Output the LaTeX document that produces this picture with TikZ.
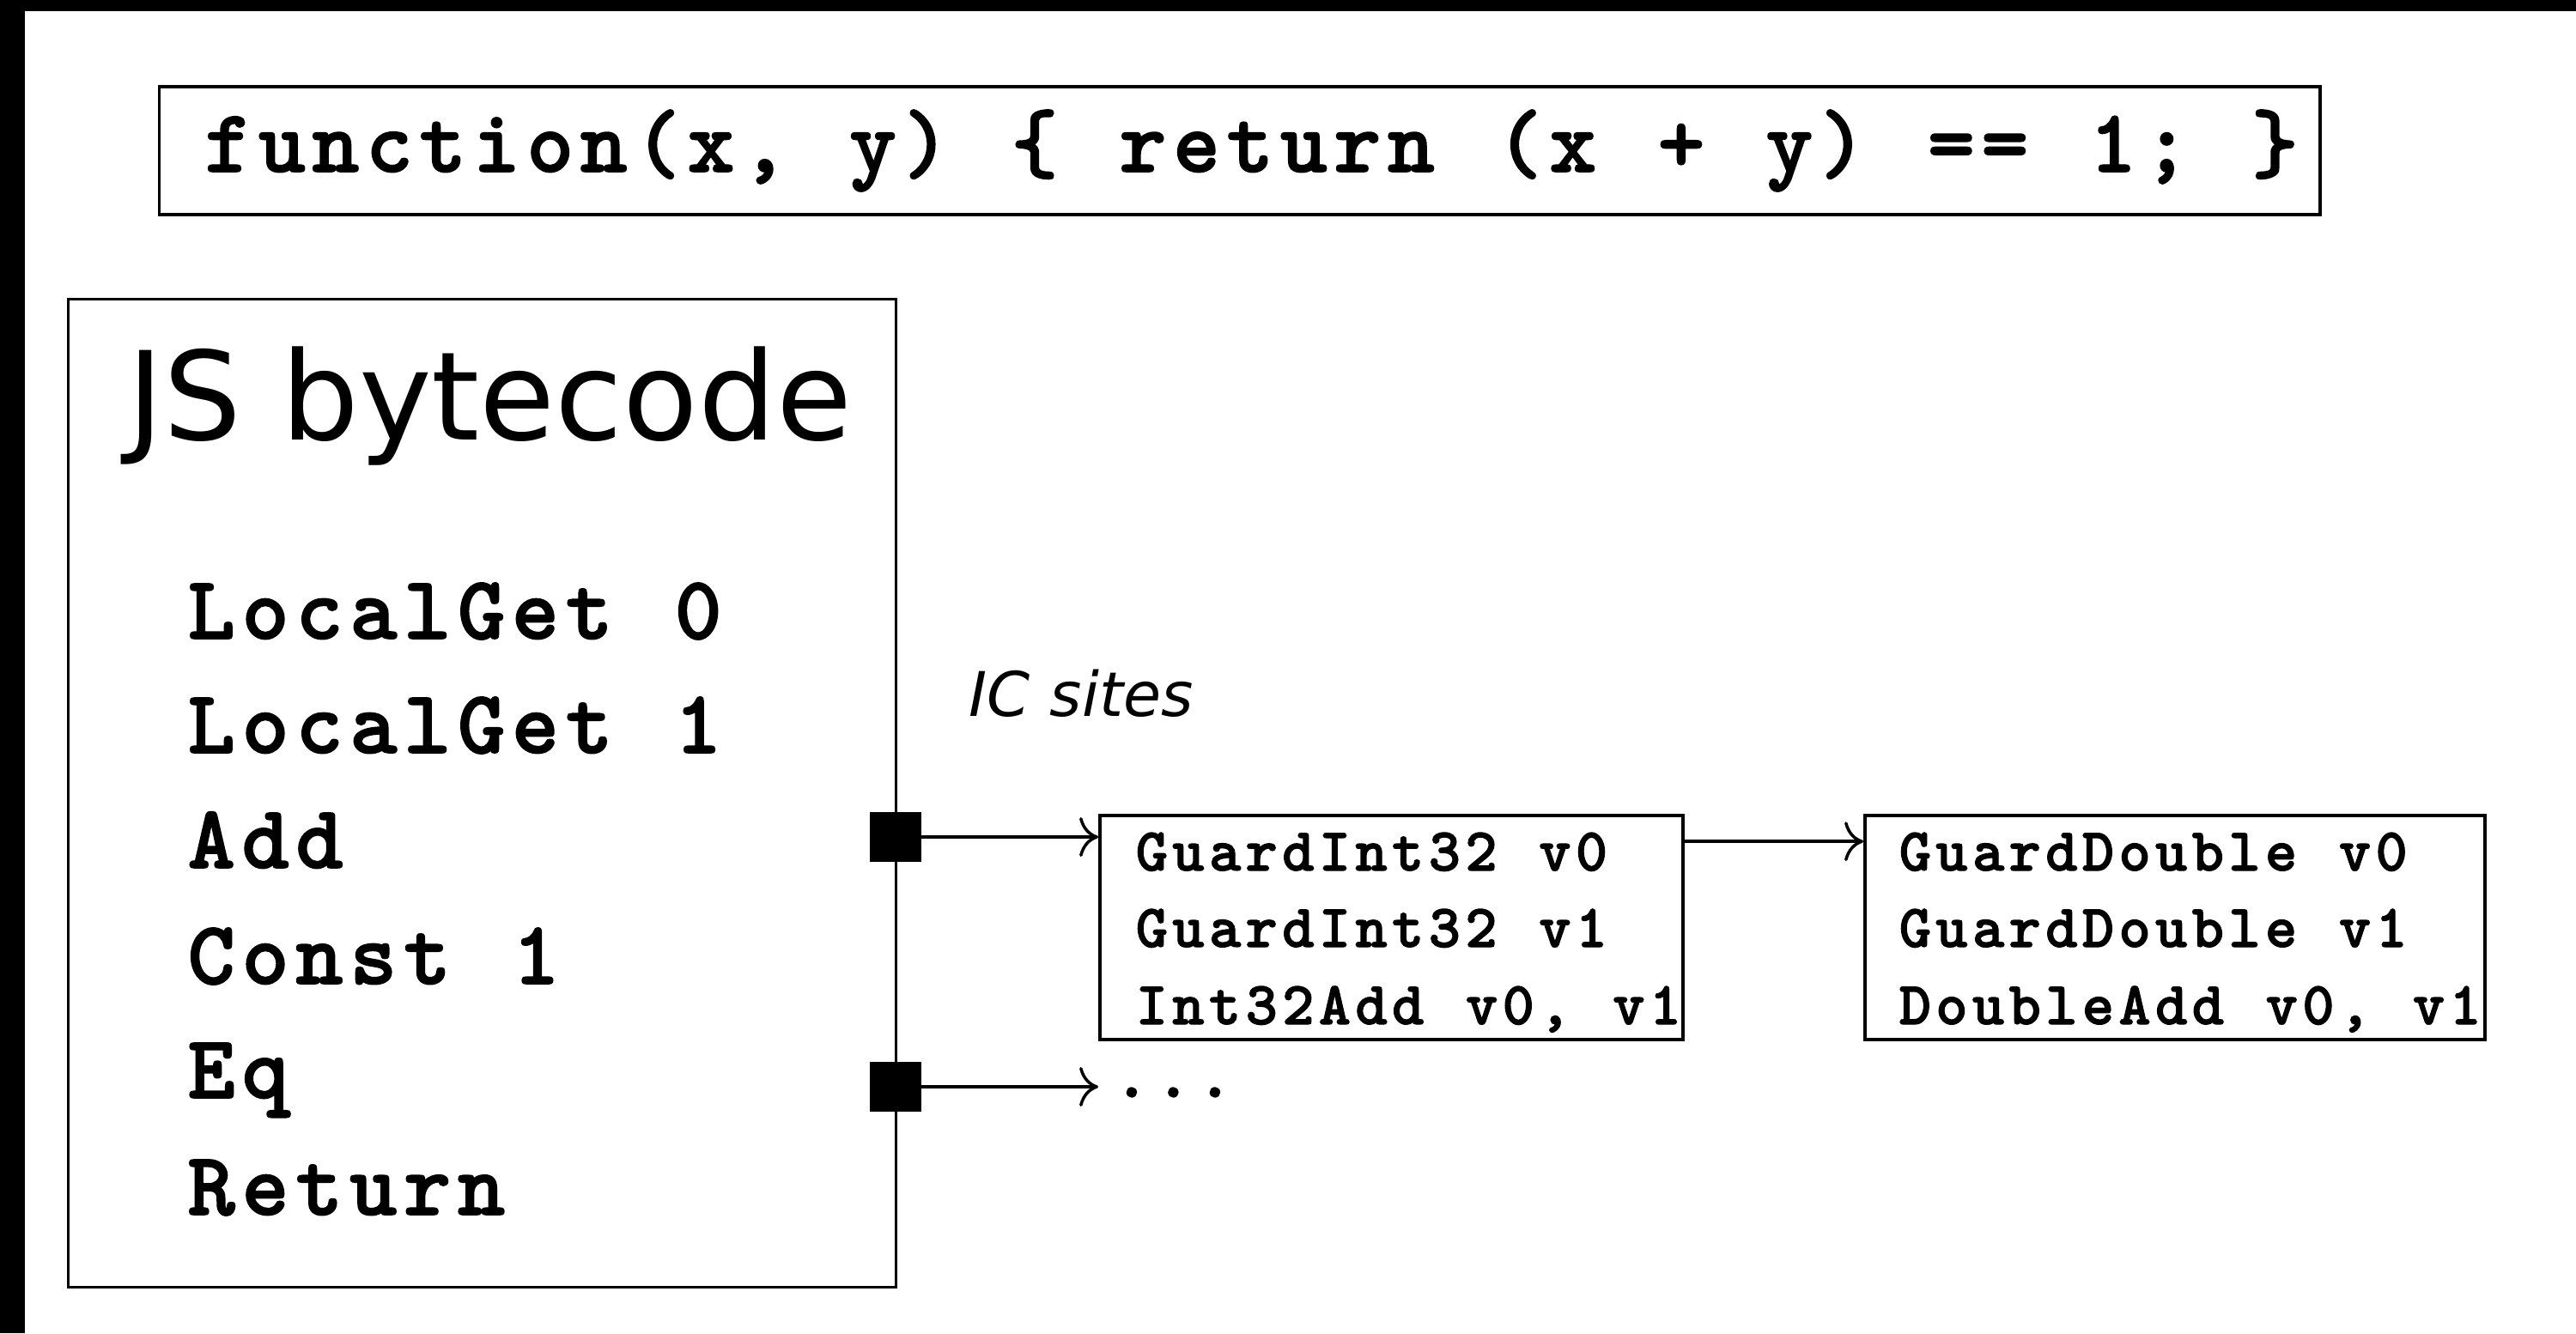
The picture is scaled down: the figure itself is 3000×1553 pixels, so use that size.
\documentclass[tikz,border=0pt]{standalone}
\usepackage{fontspec}
\usetikzlibrary{arrows.meta,calc}
\newfontfamily\codefont{lmmonolt10-bold.otf}[LetterSpace=7.5, WordSpace=1.143, FakeBold=1.6]
\newfontfamily\labelfont{DejaVu Sans}

\begin{document}
\begin{tikzpicture}[x=0.01cm,y=-0.01cm,
  boxframe/.style={draw=black, line width=1pt, inner sep=0pt, fill=white},
  txt/.style={anchor=base west, inner sep=0pt},
  bigcode/.style={txt, font=\codefont\fontsize{29.8pt}{29.8pt}\selectfont},
  smallcode/.style={txt, font=\codefont\fontsize{20.2pt}{20.2pt}\selectfont},
  site/.style={fill=black, inner sep=0pt, minimum width=0.59cm, minimum height=0.58cm},
  link/.style={line width=1pt, -{To[length=0.22cm,width=0.46cm]}}]

% page and edge bands
\useasboundingbox (0,0) rectangle (3000,1553);
\fill[white] (0,0) rectangle (3000,1553);
\fill[black] (0,0) rectangle (3000,13);
\fill[black] (0,0) rectangle (29,1553);

% source function
\node[boxframe, minimum width=25.15cm, minimum height=1.49cm] (src) at (1443.5,175.5) {};
\node[txt, font=\codefont\fontsize{29.6pt}{29.6pt}\selectfont] (srctext) at (238,200)
  {function(x, y) \{ return (x + y) == 1; \}};

% bytecode listing
\node[boxframe, minimum width=9.63cm, minimum height=11.5cm] (bc) at (561.5,924) {};
\node[txt, font=\labelfont\fontsize{40.7pt}{40.7pt}\selectfont] (bctitle) at (148,512) {JS bytecode};
\node[bigcode] (op1) at (218,744) {LocalGet 0};
\node[bigcode] (op2) at (218,877) {LocalGet 1};
\node[bigcode] (op3) at (218,1011) {Add};
\node[bigcode] (op4) at (218,1146) {Const 1};
\node[bigcode] (op5) at (218,1279) {Eq};
\node[bigcode] (op6) at (218,1415) {Return};

% IC sites
\node[txt, font=\labelfont\itshape\fontsize{20.4pt}{20.4pt}\selectfont] (iclabel) at (1128,834) {IC sites};
\node[site] (siteadd) at (1043,975) {};
\node[site] (siteeq) at (1043,1266) {};

% stub chain for Add
\node[boxframe, minimum width=6.79cm, minimum height=2.61cm] (stubA) at (1620.5,1080.5) {};
\node[smallcode] (a1) at (1322,1014) {GuardInt32 v0};
\node[smallcode] (a2) at (1322,1103) {GuardInt32 v1};
\node[smallcode] (a3) at (1322,1193) {Int32Add v0, v1};

\node[boxframe, minimum width=7.22cm, minimum height=2.61cm] (stubB) at (2533,1080.5) {};
\node[smallcode] (b1) at (2211,1014) {GuardDouble v0};
\node[smallcode] (b2) at (2211,1103) {GuardDouble v1};
\node[smallcode] (b3) at (2211,1193) {DoubleAdd v0, v1};

% stub for Eq
\node[txt, font=\codefont\fontsize{23pt}{23pt}\selectfont] (more) at (1296,1278) {...};

% connectors
\draw[link] (siteadd.east) -- (siteadd.east -| stubA.west);
\draw[link] ($(stubA.north east)+(0,32)$) -- ($(stubB.north west)+(0,32)$);
\draw[link] (siteeq.east) -- (siteeq.east -| stubA.west);
\end{tikzpicture}
\end{document}
